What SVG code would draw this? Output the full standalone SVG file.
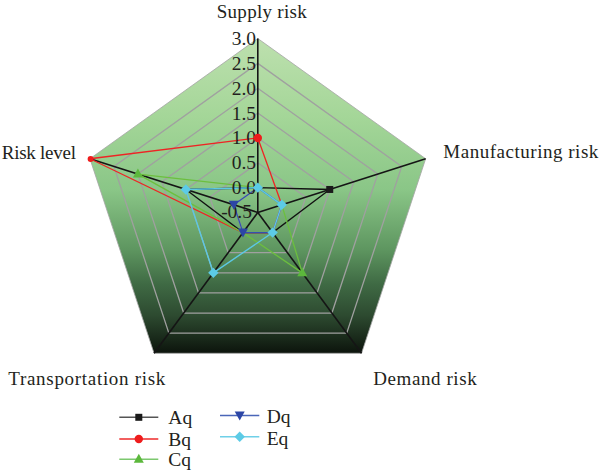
<svg xmlns="http://www.w3.org/2000/svg" width="600" height="473" viewBox="0 0 600 473">
<style>
  .txt { font-family: "Liberation Serif", "DejaVu Serif", serif; fill: #231f20; }
  .lbl { font-size: 19px; }
  .tick { font-size: 19.5px; text-anchor: end; }
  .leg { font-size: 19.5px; }
  .ring { fill: none; stroke: #a0a0a0; stroke-width: 1.3; }
  .spoke { stroke: #151515; stroke-width: 1.6; fill: none; }
  .sa { fill: none; stroke: #111111; stroke-width: 1.4; }
  .sb { fill: none; stroke: #ee2424; stroke-width: 1.3; }
  .sc { fill: none; stroke: #6cbf3e; stroke-width: 1.3; }
  .sd { fill: none; stroke: #3450b0; stroke-width: 1.3; }
  .se { fill: none; stroke: #5cc8e4; stroke-width: 1.4; }
  .ma { fill: #1a1a1a; }
  .mb { fill: #ee1c1c; }
  .mc { fill: #5cb83c; }
  .md { fill: #2c46a6; }
  .me { fill: #5ccbe6; }
</style>
<defs>
  <linearGradient id="bg" gradientUnits="userSpaceOnUse" x1="0" y1="38.5" x2="0" y2="353.3">
    <stop offset="0" stop-color="#bde0ae"/>
    <stop offset="0.25" stop-color="#a4d698"/>
    <stop offset="0.48" stop-color="#8ac687"/>
    <stop offset="0.67" stop-color="#5e9660"/>
    <stop offset="0.78" stop-color="#3f6a44"/>
    <stop offset="0.88" stop-color="#2d4a30"/>
    <stop offset="1" stop-color="#0c140c"/>
  </linearGradient>
  <rect id="m-sq" x="-3.5" y="-3.5" width="7" height="7"/>
  <circle id="m-ci" cx="0" cy="0" r="4.2"/>
  <circle id="m-cs" cx="0" cy="0" r="3"/>
  <polygon id="m-tu" points="0,-5.5 5,3.5 -5,3.5"/>
  <polygon id="m-td" points="-5,-4 5,-4 0,5"/>
  <polygon id="m-di" points="0,-5.2 5.2,0 0,5.2 -5.2,0"/>
</defs>

<g id="plot-area">
  <polygon fill="url(#bg)" stroke="#a5a5a5" stroke-width="0.8" points="257.8,38.5 425.66,158.73 361.54,353.27 154.06,353.27 89.94,158.73"/>
  <g id="rings">
    <polygon class="ring" points="257.8,187.64 281.78,204.82 272.62,232.61 242.98,232.61 233.82,204.82"/>
    <polygon class="ring" points="257.8,162.79 305.76,197.14 287.44,252.72 228.16,252.72 209.84,197.14"/>
    <polygon class="ring" points="257.8,137.93 329.74,189.46 302.26,272.83 213.34,272.83 185.86,189.46"/>
    <polygon class="ring" points="257.8,113.07 353.72,181.77 317.08,292.94 198.52,292.94 161.88,181.77"/>
    <polygon class="ring" points="257.8,88.21 377.70,174.09 331.90,313.05 183.70,313.05 137.90,174.09"/>
    <polygon class="ring" points="257.8,63.36 401.68,166.41 346.72,333.16 168.88,333.16 113.92,166.41"/>
  </g>
  <g id="spokes">
    <line class="spoke" x1="257.8" y1="212.5" x2="257.8" y2="38.5"/>
    <line class="spoke" x1="257.8" y1="212.5" x2="425.66" y2="158.73"/>
    <line class="spoke" x1="257.8" y1="212.5" x2="361.54" y2="353.27"/>
    <line class="spoke" x1="257.8" y1="212.5" x2="154.06" y2="353.27"/>
    <line class="spoke" x1="257.8" y1="212.5" x2="89.94" y2="158.73"/>
  </g>
</g>

<g id="connectors">
  <polygon id="line-Aq" class="sa" points="257.8,187.64 329.74,189.46 272.62,232.61 242.98,232.61 185.86,189.46"/>
  <polygon id="line-Bq" class="sb" points="257.8,137.93 281.78,204.82 272.62,232.61 242.98,232.61 89.94,158.73"/>
  <polygon id="line-Cq" class="sc" points="257.8,187.64 281.78,204.82 302.26,272.83 242.98,232.61 137.90,174.09"/>
  <polygon id="line-Dq" class="sd" points="257.8,187.64 281.78,204.82 272.62,232.61 242.98,232.61 233.82,204.82"/>
  <polygon id="line-Eq" class="se" points="257.8,187.64 281.78,204.82 272.62,232.61 213.34,272.83 185.86,189.46"/>
</g>

<g id="tick-labels" class="txt tick">
  <text x="256" y="45">3.0</text>
  <text x="256" y="69.8">2.5</text>
  <text x="256" y="94.7">2.0</text>
  <text x="256" y="119.5">1.5</text>
  <text x="256" y="144.4">1.0</text>
  <text x="256" y="169.3">0.5</text>
  <text x="256" y="194.1">0.0</text>
  <text x="252" y="218">-0.5</text>
</g>

<g id="markers">
  <use href="#m-sq" class="ma" x="329.74" y="189.46"/>
  <use href="#m-ci" class="mb" x="257.8" y="137.93"/>
  <use href="#m-cs" class="mb" x="90.6" y="158.9"/>
  <use href="#m-tu" class="mc" x="302.26" y="272.83"/>
  <use href="#m-tu" class="mc" x="137.90" y="174.09"/>
  <use href="#m-td" class="md" x="242.98" y="232.61"/>
  <use href="#m-td" class="md" x="233.82" y="204.82"/>
  <use href="#m-di" class="me" x="257.8" y="187.64"/>
  <use href="#m-di" class="me" x="281.78" y="204.82"/>
  <use href="#m-di" class="me" x="272.62" y="232.61"/>
  <use href="#m-di" class="me" x="213.34" y="272.83"/>
  <use href="#m-di" class="me" x="185.86" y="189.46"/>
</g>

<g id="axis-supply"><text class="txt lbl" x="216.7" y="17.5" textLength="90">Supply risk</text></g>
<g id="axis-manufacturing"><text class="txt lbl" x="443.3" y="157.5" textLength="155">Manufacturing risk</text></g>
<g id="axis-demand"><text class="txt lbl" x="373.3" y="385" textLength="103.4">Demand risk</text></g>
<g id="axis-transportation"><text class="txt lbl" x="8.3" y="385" textLength="157">Transportation risk</text></g>
<g id="axis-risk-level"><text class="txt lbl" x="1.7" y="159.3" textLength="74.3">Risk level</text></g>

<g id="legend">
  <g id="legend-Aq">
    <line x1="119.3" y1="417.3" x2="158.3" y2="417.3" stroke="#555" stroke-width="1.4"/>
    <use href="#m-sq" class="ma" x="138.8" y="417.3"/>
    <text class="txt leg" x="168.3" y="424">Aq</text>
  </g>
  <g id="legend-Bq">
    <line x1="119.3" y1="439" x2="158.3" y2="439" stroke="#ee2a2a" stroke-width="1.4"/>
    <use href="#m-ci" class="mb" x="138.8" y="439"/>
    <text class="txt leg" x="168.3" y="445.5">Bq</text>
  </g>
  <g id="legend-Cq">
    <line x1="119.3" y1="459.3" x2="158.3" y2="459.3" stroke="#7cc86e" stroke-width="1.4"/>
    <use href="#m-tu" class="mc" x="138.8" y="459.3"/>
    <text class="txt leg" x="168.3" y="466">Cq</text>
  </g>
  <g id="legend-Dq">
    <line x1="220" y1="415.5" x2="259.3" y2="415.5" stroke="#4a66b8" stroke-width="1.4"/>
    <use href="#m-td" class="md" x="239.7" y="415.5"/>
    <text class="txt leg" x="266.7" y="423">Dq</text>
  </g>
  <g id="legend-Eq">
    <line x1="220" y1="436.7" x2="259.3" y2="436.7" stroke="#6fd0e8" stroke-width="1.4"/>
    <use href="#m-di" class="me" x="239.7" y="436.7"/>
    <text class="txt leg" x="266.7" y="444.5">Eq</text>
  </g>
</g>
</svg>
